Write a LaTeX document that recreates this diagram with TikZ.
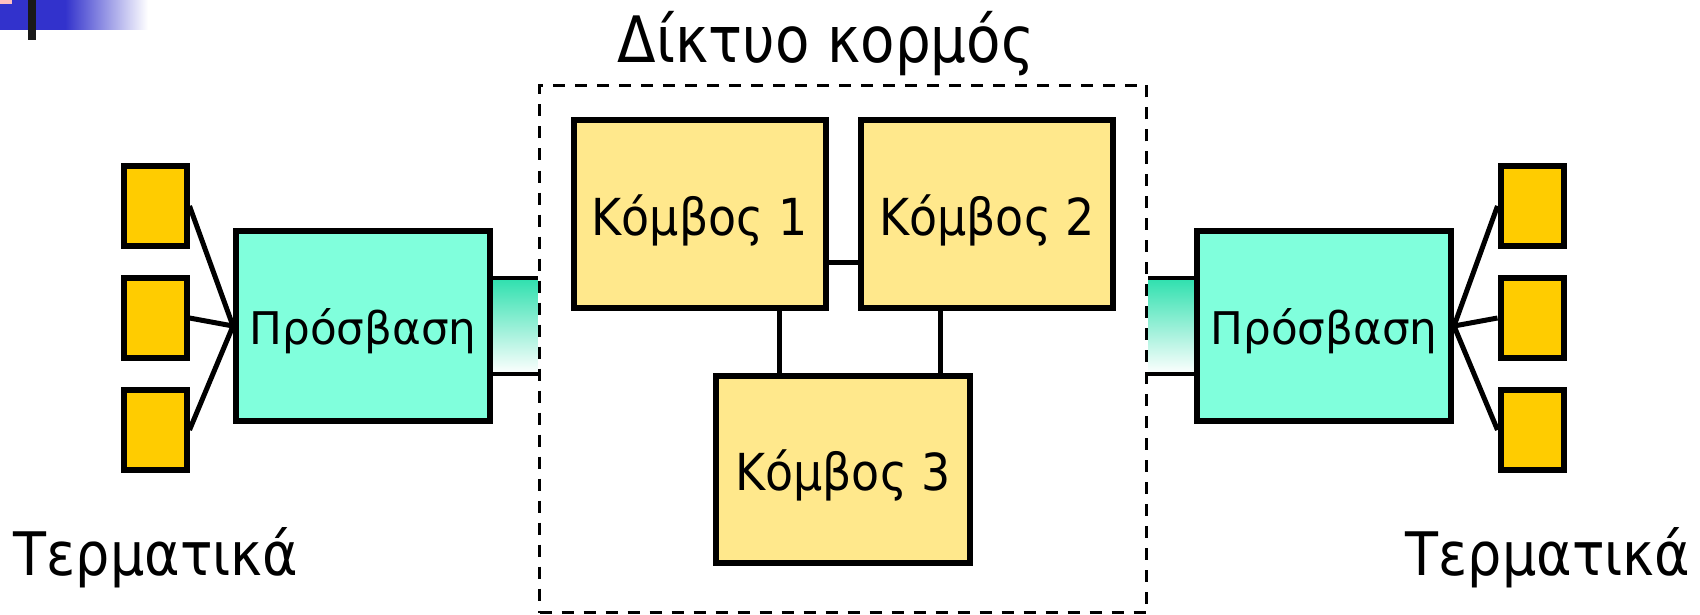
\documentclass[tikz,border=0pt]{standalone}
\usepackage{fontspec}
\setmainfont[FakeStretch=0.9]{DejaVu Sans}
\newfontfamily\accfont[FakeStretch=0.97]{DejaVu Sans}
\newfontfamily\titlefont[FakeStretch=0.88]{DejaVu Sans}
\usetikzlibrary{backgrounds}

\definecolor{termgold}{RGB}{255,204,0}
\definecolor{accessaqua}{RGB}{128,255,220}
\definecolor{nodecream}{RGB}{255,232,140}
\definecolor{linkgreen}{RGB}{46,224,174}
\definecolor{barblue}{RGB}{50,50,204}
\definecolor{barpink}{RGB}{255,192,192}

\begin{document}
\begin{tikzpicture}[x=1pt, y=-1pt,
    term/.style={draw, line width=6pt, fill=termgold, minimum width=63pt, minimum height=80pt, inner sep=0pt},
    access/.style={draw, line width=6pt, fill=accessaqua, minimum width=254pt, minimum height=190pt, inner sep=0pt,
        text height=36pt, text depth=0pt, font=\accfont\fontsize{45}{50}\selectfont},
    kombos/.style={draw, line width=6pt, fill=nodecream, minimum width=252pt, minimum height=188pt, inner sep=0pt,
        text height=42pt, text depth=0pt, font=\fontsize{51}{58}\selectfont},
    wire/.style={line width=5pt},
    bigtext/.style={anchor=base, inner sep=0pt}]
    \useasboundingbox (0,0) rectangle (1700,615);

    % corner mark
    \fill[barblue] (0,0) rectangle (65,30);
    \shade[left color=barblue, right color=white] (65,0) rectangle (148,30);
    \fill[barpink] (0,0) rectangle (12,4);
    \fill[black!90] (28,0) rectangle (36,40);

    % core network
    \node[draw, dashed, line width=3.5pt, dash pattern=on 12pt off 10pt, minimum width=607pt, minimum height=527pt, inner sep=0pt] (core) at (843,349) {};
    \node[bigtext, font=\titlefont\fontsize{64}{70}\selectfont] (title) at (826,63) {Δίκτυο κορμός};
    \node[kombos] (k1) at (699.5,214) {Κόμβος 1};
    \node[kombos] (k2) at (987,214) {Κόμβος 2};
    \node[kombos, minimum width=254pt, minimum height=187pt] (k3) at (843,469.5) {Κόμβος 3};
    \draw[wire] ([yshift=-48pt]k1.east) -- ([yshift=-48pt]k2.west);
    \draw[wire] ([xshift=80pt]k1.south) -- ([xshift=80pt]k1.south |- k3.north);
    \draw[wire] ([xshift=-47pt]k2.south) -- ([xshift=-47pt]k2.south |- k3.north);

    % access
    \node[access] (acc1) at (363,326) {Πρόσβαση};
    \node[access] (acc2) at (1324,326) {Πρόσβαση};
    \begin{scope}[on background layer]
        \shade[top color=linkgreen, bottom color=white] ([yshift=48pt]acc1.east) rectangle ([yshift=-48pt]acc1.east -| core.west);
        \shade[top color=linkgreen, bottom color=white] ([yshift=48pt]acc2.west) rectangle ([yshift=-48pt]acc2.west -| core.east);
    \end{scope}
    \draw[line width=4.5pt] ([yshift=48pt]acc1.east) -- ([yshift=48pt]acc1.east -| core.west);
    \draw[line width=4.5pt] ([yshift=-48pt]acc1.east) -- ([yshift=-48pt]acc1.east -| core.west);
    \draw[line width=4.5pt] ([yshift=48pt]acc2.west) -- ([yshift=48pt]acc2.west -| core.east);
    \draw[line width=4.5pt] ([yshift=-48pt]acc2.west) -- ([yshift=-48pt]acc2.west -| core.east);

    % terminals
    \node[term] (tl1) at (155,206) {};
    \node[term] (tl2) at (155,318) {};
    \node[term] (tl3) at (155,430) {};
    \node[term] (tr1) at (1532,206) {};
    \node[term] (tr2) at (1532,318) {};
    \node[term] (tr3) at (1532,430) {};
    \foreach \t in {tl1,tl2,tl3}
        \draw[wire] (\t.east) -- (acc1.west);
    \foreach \t in {tr1,tr2,tr3}
        \draw[wire] (\t.west) -- (acc2.east);
    \node[bigtext, font=\fontsize{60}{66}\selectfont] (termleft) at (156,575) {Τερματικά};
    \node[bigtext, font=\fontsize{60}{66}\selectfont] (termright) at (1548,575) {Τερματικά};
\end{tikzpicture}
\end{document}
